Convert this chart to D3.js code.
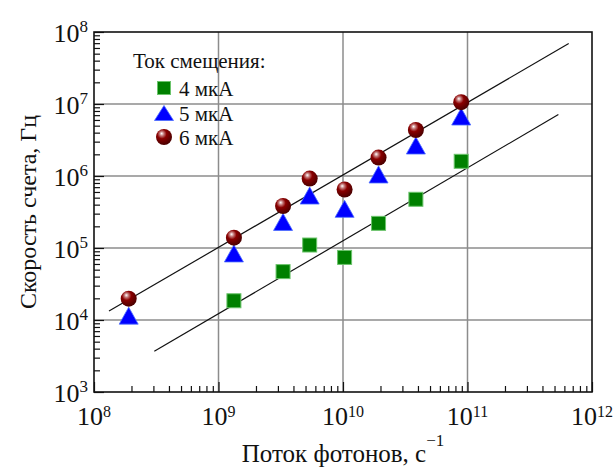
<!DOCTYPE html>
<html>
<head>
<meta charset="utf-8">
<script src="https://cdnjs.cloudflare.com/ajax/libs/d3/7.8.5/d3.min.js"></script>
<style>
  body { margin: 0; background: #fff; }
  text { font-family: "Liberation Serif", "Times New Roman", serif; fill: #111; }
</style>
</head>
<body>
<script>
// Photon flux (s^-1) and count rate (Hz) per bias current
var flux4 = [1.33e9, 3.3e9, 5.4e9, 1.03e10, 1.93e10, 3.85e10, 8.9e10],
    rate4 = [1.85e4, 4.7e4, 1.1e5, 7.4e4, 2.2e5, 4.75e5, 1.6e6];
var flux5 = [1.9e8, 1.33e9, 3.3e9, 5.4e9, 1.03e10, 1.93e10, 3.85e10, 8.9e10],
    rate5 = [1.15e4, 8.4e4, 2.3e5, 5.35e5, 3.5e5, 1.05e6, 2.65e6, 6.7e6];
var flux6 = [1.9e8, 1.33e9, 3.3e9, 5.4e9, 1.03e10, 1.93e10, 3.85e10, 8.9e10],
    rate6 = [1.98e4, 1.39e5, 3.83e5, 9.2e5, 6.5e5, 1.8e6, 4.35e6, 1.06e7];

// linear fits (slope 1 in log-log)
var fitHiX = [1.32e8, 6.5e11], fitHiY = [1.33e4, 6.9e7];
var fitLoX = [3.05e8, 5.37e11], fitLoY = [3.67e3, 7.13e6];

var xMajor = [8, 9, 10, 11, 12],
    yMajor = [3, 4, 5, 6, 7, 8];
var legendLabels = ["4 мкА", "5 мкА", "6 мкА"];

var margin = {top: 32, left: 94, right: 22, bottom: 76},
    width = 614 - margin.left - margin.right,
    height = 468 - margin.top - margin.bottom;

var svg = d3.select("body").append("svg")
    .attr("width", 614).attr("height", 468);

// ball gradient
var defs = svg.append("defs");
var grad = defs.append("radialGradient").attr("id", "ball")
    .attr("cx", "40%").attr("cy", "35%").attr("r", "65%")
    .attr("fx", "35%").attr("fy", "28%");
grad.append("stop").attr("offset", "0%").attr("stop-color", "#ffffff");
grad.append("stop").attr("offset", "22%").attr("stop-color", "#c07070");
grad.append("stop").attr("offset", "45%").attr("stop-color", "#8a0000");
grad.append("stop").attr("offset", "100%").attr("stop-color", "#4a0000");

var g = svg.append("g").attr("transform", "translate(" + margin.left + "," + margin.top + ")");

var x = d3.scaleLog().domain([1e8, 1e12]).range([0, width]);
var y = d3.scaleLog().domain([1e3, 1e8]).range([height, 0]);

// Grid
g.append("g").selectAll("line").data(xMajor.slice(1, -1)).enter().append("line")
    .attr("x1", function(d) { return x(Math.pow(10, d)); })
    .attr("x2", function(d) { return x(Math.pow(10, d)); })
    .attr("y1", 0).attr("y2", height)
    .attr("stroke", "#8c8c8c").attr("stroke-width", 1.5);
g.append("g").selectAll("line").data(yMajor.slice(1, -1)).enter().append("line")
    .attr("y1", function(d) { return y(Math.pow(10, d)); })
    .attr("y2", function(d) { return y(Math.pow(10, d)); })
    .attr("x1", 0).attr("x2", width)
    .attr("stroke", "#8c8c8c").attr("stroke-width", 1.5);

// Minor & major ticks (inward)
function minorVals(lo, hi) {
    var v = [];
    for (var e = lo; e < hi; e++)
        for (var k = 2; k <= 9; k++) v.push(k * Math.pow(10, e));
    return v;
}
var xAxisMinor = d3.axisBottom(x).tickValues(minorVals(8, 12)).tickSize(-6).tickFormat("");
var xAxisMajor = d3.axisBottom(x).tickValues(xMajor.map(function(e) { return Math.pow(10, e); }))
    .tickSize(-10).tickFormat("");
var yAxisMinor = d3.axisLeft(y).tickValues(minorVals(3, 8)).tickSize(-6).tickFormat("");
var yAxisMajor = d3.axisLeft(y).tickValues(yMajor.map(function(e) { return Math.pow(10, e); }))
    .tickSize(-10).tickFormat("");

[xAxisMinor, xAxisMajor].forEach(function(ax) {
    g.append("g").attr("transform", "translate(0," + height + ")").call(ax)
        .call(function(s) { s.select(".domain").remove(); s.selectAll("line").attr("stroke", "#111").attr("stroke-width", 1.2); });
});
[yAxisMinor, yAxisMajor].forEach(function(ax) {
    g.append("g").call(ax)
        .call(function(s) { s.select(".domain").remove(); s.selectAll("line").attr("stroke", "#111").attr("stroke-width", 1.2); });
});

// Frame
g.append("rect").attr("width", width).attr("height", height)
    .attr("fill", "none").attr("stroke", "#111").attr("stroke-width", 1.6);

// Tick labels
var xl = g.append("g").selectAll("text").data(xMajor).enter().append("text")
    .attr("x", function(d) { return x(Math.pow(10, d)); })
    .attr("y", height + 33)
    .attr("text-anchor", "middle")
    .style("font-size", "26px");
xl.append("tspan").text("10");
xl.append("tspan").attr("dy", -8).style("font-size", "16px").text(function(d) { return d; });

var yl = g.append("g").selectAll("text").data(yMajor).enter().append("text")
    .attr("x", -6)
    .attr("y", function(d) { return y(Math.pow(10, d)) + 10; })
    .attr("text-anchor", "end")
    .style("font-size", "26px");
yl.append("tspan").text("10");
yl.append("tspan").attr("dy", -10).style("font-size", "17px").text(function(d) { return d; });

// Axis titles
var xt = svg.append("text")
    .attr("x", margin.left + width / 2).attr("y", 462)
    .attr("text-anchor", "middle").style("font-size", "25px");
xt.append("tspan").text("Поток фотонов, с");
xt.append("tspan").attr("dy", -16).style("font-size", "17px").text("−1");

svg.append("text")
    .attr("transform", "translate(36," + (margin.top + height / 2) + ")rotate(-90)")
    .attr("text-anchor", "middle").style("font-size", "24px")
    .text("Скорость счета, Гц");

// Fit lines
var line = d3.line().x(function(d) { return x(d[0]); }).y(function(d) { return y(d[1]); });
g.append("path").datum(d3.zip(fitHiX, fitHiY)).attr("d", line)
    .attr("fill", "none").attr("stroke", "#111").attr("stroke-width", 1.2);
g.append("path").datum(d3.zip(fitLoX, fitLoY)).attr("d", line)
    .attr("fill", "none").attr("stroke", "#111").attr("stroke-width", 1.2);

// Marker drawers
function square(sel, cx, cy, s) {
    sel.append("rect").attr("x", cx - s / 2).attr("y", cy - s / 2)
        .attr("width", s).attr("height", s)
        .attr("fill", "#008000").attr("stroke", "#6cc46c").attr("stroke-width", 1);
}
function triangle(sel, cx, cy, w, h) {
    sel.append("path")
        .attr("d", "M" + cx + "," + (cy - h / 2) + "L" + (cx + w / 2) + "," + (cy + h / 2) +
              "L" + (cx - w / 2) + "," + (cy + h / 2) + "Z")
        .attr("fill", "#0000ff").attr("stroke", "#4a6cff").attr("stroke-width", 0.8);
}
function ball(sel, cx, cy, r) {
    sel.append("circle").attr("cx", cx).attr("cy", cy).attr("r", r)
        .attr("fill", "url(#ball)");
}

var marks = g.append("g");
d3.zip(flux4, rate4).forEach(function(d) { square(marks, x(d[0]), y(d[1]), 14); });
d3.zip(flux5, rate5).forEach(function(d) { triangle(marks, x(d[0]), y(d[1]), 19, 17); });
d3.zip(flux6, rate6).forEach(function(d) { ball(marks, x(d[0]), y(d[1]), 8); });

// Legend
var lg = svg.append("g");
lg.append("text").attr("x", 133).attr("y", 68).style("font-size", "21px").text("Ток смещения:");
var ly = [88, 113, 137];
square(lg, 164, ly[0], 13);
triangle(lg, 164, ly[1], 19, 15);
ball(lg, 164, ly[2], 8);
lg.selectAll("text.item").data(legendLabels).enter().append("text").attr("class", "item")
    .attr("x", 179).attr("y", function(d, i) { return ly[i] + 7.5; })
    .style("font-size", "21px").text(function(d) { return d; });
</script>
</body>
</html>
